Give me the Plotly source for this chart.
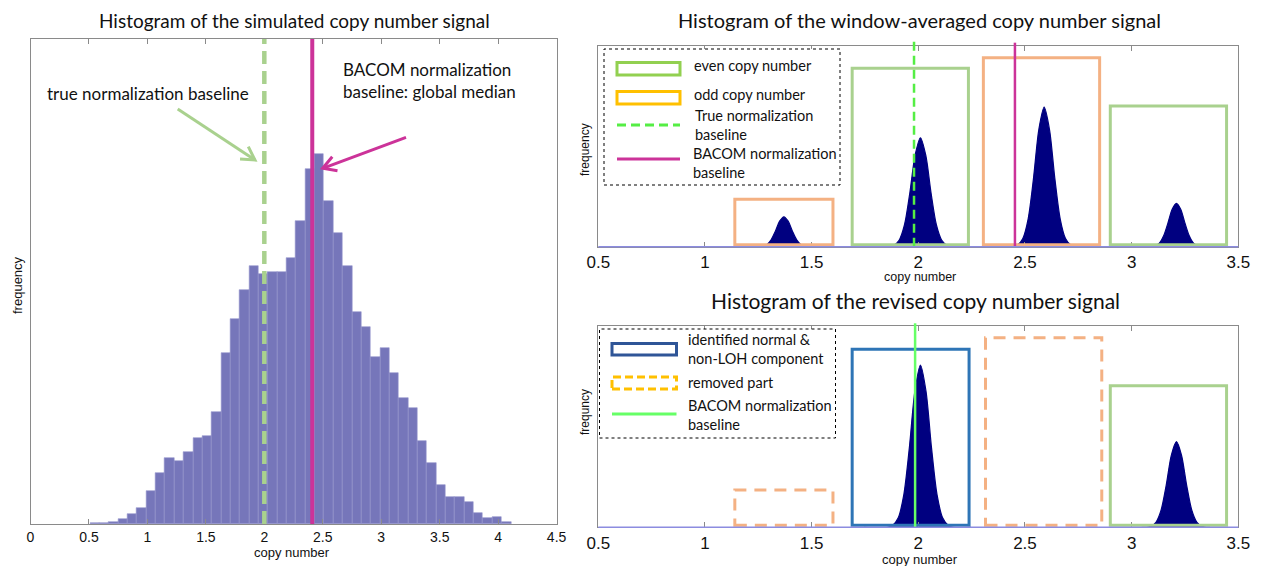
import math
import plotly.graph_objects as go

W, H = 1263, 566

# ---------------- data ----------------
# left: histogram of the simulated copy number signal
hist_bin_start = 0.51
hist_bin_width = 0.08
hist_counts = [2, 3, 6, 15, 30, 49, 98, 152, 197, 188, 215, 259, 265, 337, 512,
               616, 702, 775, 751, 756, 757, 799, 909, 1064, 1110, 970, 874, 773,
               636, 592, 500, 528, 454, 377, 348, 248, 183, 118, 82, 80, 65, 32,
               19, 22, 5]
left_true_baseline = 2.0
left_bacom_baseline = 2.41

left_x_ticks = [0, 0.5, 1, 1.5, 2, 2.5, 3, 3.5, 4, 4.5]
left_x_tick_labels = ["0", "0.5", "1", "1.5", "2", "2.5", "3", "3.5", "4", "4.5"]
right_x_ticks = [0.5, 1, 1.5, 2, 2.5, 3, 3.5]
right_x_tick_labels = ["0.5", "1", "1.5", "2", "2.5", "3", "3.5"]

# top right: window-averaged signal
win_box_x0 = [1.14, 1.69, 2.305, 2.90]
win_box_x1 = [1.60, 2.235, 2.85, 3.445]
win_box_h = [0.236, 0.888, 0.940, 0.700]
win_box_kind = ["odd", "even", "odd", "even"]
win_true_baseline = 1.98
win_bacom_baseline = 2.453

win_peak1_x = [1.115, 1.26, 1.27, 1.29, 1.31, 1.33, 1.35, 1.37, 1.39, 1.41, 1.43, 1.45, 1.47, 1.48, 1.625]
win_peak1_y = [0, 0, 0.003, 0.010, 0.034, 0.077, 0.127, 0.149, 0.127, 0.077, 0.034, 0.010, 0.003, 0, 0]
win_peak2_x = [1.68, 1.86, 1.885, 1.91, 1.935, 1.96, 1.985, 2.01, 2.035, 2.06, 2.085, 2.11, 2.135, 2.16, 2.25]
win_peak2_y = [0, 0, 0.007, 0.032, 0.108, 0.266, 0.455, 0.542, 0.455, 0.266, 0.108, 0.032, 0.007, 0, 0]
win_peak3_x = [2.30, 2.44, 2.465, 2.49, 2.515, 2.54, 2.565, 2.59, 2.615, 2.64, 2.665, 2.69, 2.715, 2.74, 2.85]
win_peak3_y = [0, 0, 0.008, 0.041, 0.139, 0.340, 0.583, 0.694, 0.583, 0.340, 0.139, 0.041, 0.008, 0, 0]
win_peak4_x = [2.907, 3.09, 3.11, 3.13, 3.15, 3.17, 3.19, 3.21, 3.23, 3.25, 3.27, 3.29, 3.31, 3.33, 3.45]
win_peak4_y = [0, 0, 0.005, 0.018, 0.054, 0.117, 0.186, 0.216, 0.186, 0.117, 0.054, 0.018, 0.005, 0, 0]

# bottom right: revised signal
rev_box_x0 = [1.14, 1.69, 2.315, 2.90]
rev_box_x1 = [1.60, 2.238, 2.86, 3.445]
rev_box_h = [0.185, 0.883, 0.940, 0.702]
rev_box_kind = ["removed", "identified", "removed", "even"]
rev_bacom_baseline = 1.985

rev_peak2_x = [1.745, 1.855, 1.88, 1.906, 1.932, 1.958, 1.984, 2.01, 2.036, 2.062, 2.088, 2.114, 2.14, 2.165, 2.247]
rev_peak2_y = [0, 0, 0.010, 0.047, 0.161, 0.394, 0.676, 0.805, 0.676, 0.394, 0.161, 0.047, 0.010, 0, 0]
rev_peak4_x = [3.047, 3.07, 3.09, 3.114, 3.138, 3.162, 3.186, 3.21, 3.234, 3.258, 3.282, 3.306, 3.33, 3.35, 3.368]
rev_peak4_y = [0, 0, 0.005, 0.025, 0.085, 0.208, 0.357, 0.425, 0.357, 0.208, 0.085, 0.025, 0.005, 0, 0]

# ---------------- styles ----------------
BAR = "rgb(118,118,186)"
NAVY = "#000080"
GRAY = "#8a8a8a"
BASE_BLUE = "#8c8ce0"
MAGENTA = "#CC3399"
GREEN_SOFT = "#A9D18E"
ORANGE_SOFT = "#F4B183"
BLUE_BOX = "#2E75B6"
TXT = "Lato, 'Open Sans', sans-serif"
ARIAL = "Arial, 'Liberation Sans', sans-serif"

box_style = {
    "odd": dict(color=ORANGE_SOFT, width=3, dash="solid"),
    "even": dict(color=GREEN_SOFT, width=3, dash="solid"),
    "identified": dict(color=BLUE_BOX, width=3, dash="solid"),
    "removed": dict(color=ORANGE_SOFT, width=3, dash="12px,8px"),
}


def px(x):
    return x / W


def py(y):
    return 1 - y / H


fig = go.Figure()

# left histogram
bin_centers = [hist_bin_start + hist_bin_width * (i + 0.5) for i in range(len(hist_counts))]
fig.add_trace(go.Bar(x=bin_centers, y=hist_counts, width=hist_bin_width,
                     marker=dict(color=BAR, line=dict(color="rgb(150,150,205)", width=0.6)),
                     xaxis="x", yaxis="y", showlegend=False))

# right peaks
for xs, ys, ax in [(win_peak1_x, win_peak1_y, "2"), (win_peak2_x, win_peak2_y, "2"),
                   (win_peak3_x, win_peak3_y, "2"), (win_peak4_x, win_peak4_y, "2"),
                   (rev_peak2_x, rev_peak2_y, "3"), (rev_peak4_x, rev_peak4_y, "3")]:
    fig.add_trace(go.Scatter(x=xs, y=ys, mode="lines", fill="tozeroy",
                             fillcolor=NAVY, line=dict(color=NAVY, width=1.2, shape="spline", smoothing=0.8),
                             xaxis="x" + ax, yaxis="y" + ax, showlegend=False, hoverinfo="skip"))

shapes = []
# boxes
for x0s, x1s, hs, kinds, ax in [(win_box_x0, win_box_x1, win_box_h, win_box_kind, "2"),
                                (rev_box_x0, rev_box_x1, rev_box_h, rev_box_kind, "3")]:
    for x0, x1, h, k in zip(x0s, x1s, hs, kinds):
        shapes.append(dict(type="rect", xref="x" + ax, yref="y" + ax, x0=x0, x1=x1, y0=0.01, y1=h,
                           line=box_style[k], fillcolor="rgba(0,0,0,0)", layer="above"))

# vertical baselines
shapes.append(dict(type="line", xref="x", yref="y domain", x0=left_true_baseline, x1=left_true_baseline,
                   y0=0, y1=1, line=dict(color=GREEN_SOFT, width=4.5, dash="13px,7px")))
shapes.append(dict(type="line", xref="x", yref="y domain", x0=left_bacom_baseline, x1=left_bacom_baseline,
                   y0=0, y1=1, line=dict(color=MAGENTA, width=4)))
shapes.append(dict(type="line", xref="x2", yref="y2 domain", x0=win_true_baseline, x1=win_true_baseline,
                   y0=0, y1=1.02, line=dict(color="#55EE44", width=2.5, dash="9px,5px")))
shapes.append(dict(type="line", xref="x2", yref="y2 domain", x0=win_bacom_baseline, x1=win_bacom_baseline,
                   y0=0, y1=1.015, line=dict(color=MAGENTA, width=2.5)))
shapes.append(dict(type="line", xref="x3", yref="y3 domain", x0=rev_bacom_baseline, x1=rev_bacom_baseline,
                   y0=0, y1=1.012, line=dict(color="#66FF66", width=2.5)))

# light blue bottom lines of right plots
for ax in ["2", "3"]:
    shapes.append(dict(type="line", xref="x" + ax + " domain", yref="y" + ax + " domain",
                       x0=0, x1=1, y0=0, y1=0, line=dict(color=BASE_BLUE, width=1.5), layer="above"))


# arrows on left plot (pixel positions -> paper)
def arrow(tail, tip, color, width, hl=15, ang=30):
    dx, dy = tail[0] - tip[0], tail[1] - tip[1]
    L = math.hypot(dx, dy)
    ux, uy = dx / L, dy / L
    pts = []
    for s in (1, -1):
        a = math.radians(ang) * s
        rx = ux * math.cos(a) - uy * math.sin(a)
        ry = ux * math.sin(a) + uy * math.cos(a)
        pts.append((tip[0] + hl * rx, tip[1] + hl * ry))
    out = [dict(type="line", xref="paper", yref="paper", x0=px(tail[0]), y0=py(tail[1]),
                x1=px(tip[0]), y1=py(tip[1]), line=dict(color=color, width=width))]
    path = "M {:.5f} {:.5f} L {:.5f} {:.5f} L {:.5f} {:.5f}".format(
        px(pts[0][0]), py(pts[0][1]), px(tip[0]), py(tip[1]), px(pts[1][0]), py(pts[1][1]))
    out.append(dict(type="path", xref="paper", yref="paper", path=path, line=dict(color=color, width=width)))
    return out


shapes += arrow((177.7, 109), (255, 160), GREEN_SOFT, 3)
shapes += arrow((406, 137.3), (322.7, 168.3), MAGENTA, 3)

# ---- manual legends ----
# top legend
shapes.append(dict(type="rect", xref="paper", yref="paper", x0=px(604), x1=px(840), y0=py(185), y1=py(49),
                   line=dict(color="#000000", width=1, dash="dot"), fillcolor="white", layer="above"))
shapes.append(dict(type="rect", xref="paper", yref="paper", x0=px(617), x1=px(680), y0=py(75), y1=py(62.5),
                   line=dict(color="#92D050", width=3), layer="above"))
shapes.append(dict(type="rect", xref="paper", yref="paper", x0=px(617), x1=px(680), y0=py(104), y1=py(91.5),
                   line=dict(color="#FFC000", width=3), layer="above"))
shapes.append(dict(type="line", xref="paper", yref="paper", x0=px(617), x1=px(680), y0=py(125), y1=py(125),
                   line=dict(color="#55EE44", width=3, dash="9px,5px"), layer="above"))
shapes.append(dict(type="line", xref="paper", yref="paper", x0=px(617), x1=px(680), y0=py(159), y1=py(159),
                   line=dict(color=MAGENTA, width=3), layer="above"))
# bottom legend
shapes.append(dict(type="rect", xref="paper", yref="paper", x0=px(599.5), x1=px(835.5), y0=py(438), y1=py(329),
                   line=dict(color="#000000", width=1, dash="dot"), fillcolor="white", layer="above"))
shapes.append(dict(type="rect", xref="paper", yref="paper", x0=px(612), x1=px(676.5), y0=py(355), y1=py(343.5),
                   line=dict(color="#2F5597", width=3), layer="above"))
shapes.append(dict(type="rect", xref="paper", yref="paper", x0=px(612), x1=px(676.5), y0=py(389), y1=py(377),
                   line=dict(color="#FFC000", width=3, dash="8px,4px"), layer="above"))
shapes.append(dict(type="line", xref="paper", yref="paper", x0=px(612), x1=px(676.5), y0=py(414), y1=py(414),
                   line=dict(color="#66FF66", width=3), layer="above"))

annotations = []


def text(x, y, s, size, font=TXT, xanchor="left", angle=0, color="#111111"):
    annotations.append(dict(x=px(x), y=py(y), xref="paper", yref="paper", text=s, showarrow=False,
                            xanchor=xanchor, yanchor="middle", textangle=angle,
                            align=xanchor if xanchor != "center" else "center",
                            font=dict(family=font, size=size, color=color)))


# titles
text(294, 20, "Histogram of the simulated copy number signal", 19, xanchor="center")
text(920, 20, "Histogram of the window-averaged copy number signal", 20, xanchor="center")
text(915, 300, "Histogram of the revised copy number signal", 21, xanchor="center")
# axis titles
text(292, 552, "copy number", 13, font=ARIAL, xanchor="center")
text(920, 277.5, "copy number", 12.5, font=ARIAL, xanchor="center")
text(920, 559, "copy number", 13, font=ARIAL, xanchor="center")
text(17, 285, "frequency", 13, font=ARIAL, xanchor="center", angle=-90)
text(585, 150, "frequency", 12, font=ARIAL, xanchor="center", angle=-90)
text(585, 412, "frequncy", 12, font=ARIAL, xanchor="center", angle=-90)
# left annotations
text(45, 93, "true normalization baseline", 17)
text(341, 80, "BACOM normalization<br>baseline: global median", 17)
# top legend text
text(692, 65, "even copy number", 14.5)
text(692, 95, "odd copy number", 14.5)
text(693, 124.5, "True normalization<br>baseline", 14.5)
text(691, 163, "BACOM normalization<br>baseline", 14.5)
# bottom legend text
text(686, 349, "identified normal &<br>non-LOH component", 14.5)
text(686, 382, "removed part", 14.5)
text(686, 415, "BACOM normalization<br>baseline", 14.5)

common_x = dict(showline=True, linecolor=GRAY, linewidth=1, mirror="ticks", ticks="inside",
                ticklen=5, tickcolor=GRAY, showgrid=False, zeroline=False, automargin=False)
common_y = dict(showline=True, linecolor=GRAY, linewidth=1, mirror=True, ticks="",
                showticklabels=False, showgrid=False, zeroline=False, automargin=False)

fig.update_layout(
    width=W, height=H, autosize=False,
    margin=dict(l=0, r=0, t=0, b=0, pad=0, autoexpand=False),
    paper_bgcolor="white", plot_bgcolor="white",
    bargap=0, showlegend=False,
    xaxis=dict(domain=[px(30.5), px(556.6)], range=[0, 4.5], tickvals=left_x_ticks,
               ticktext=left_x_tick_labels, tickfont=dict(family=ARIAL, size=14, color="#111"),
               anchor="y", **common_x),
    yaxis=dict(domain=[py(524), py(39)], range=[0, 1455], anchor="x", **common_y),
    xaxis2=dict(domain=[px(598.3), px(1238.3)], range=[0.5, 3.5], tickvals=right_x_ticks,
                ticktext=right_x_tick_labels, tickfont=dict(family=ARIAL, size=17, color="#111"),
                anchor="y2", **common_x),
    yaxis2=dict(domain=[py(246.7), py(45.7)], range=[0, 1], anchor="x2", **common_y),
    xaxis3=dict(domain=[px(598.3), px(1238.3)], range=[0.5, 3.5], tickvals=right_x_ticks,
                ticktext=right_x_tick_labels, tickfont=dict(family=ARIAL, size=17, color="#111"),
                anchor="y3", **common_x),
    yaxis3=dict(domain=[py(527.3), py(325.7)], range=[0, 1], anchor="x3", **common_y),
    shapes=shapes,
    annotations=annotations,
)

fig.write_html("out.html")
